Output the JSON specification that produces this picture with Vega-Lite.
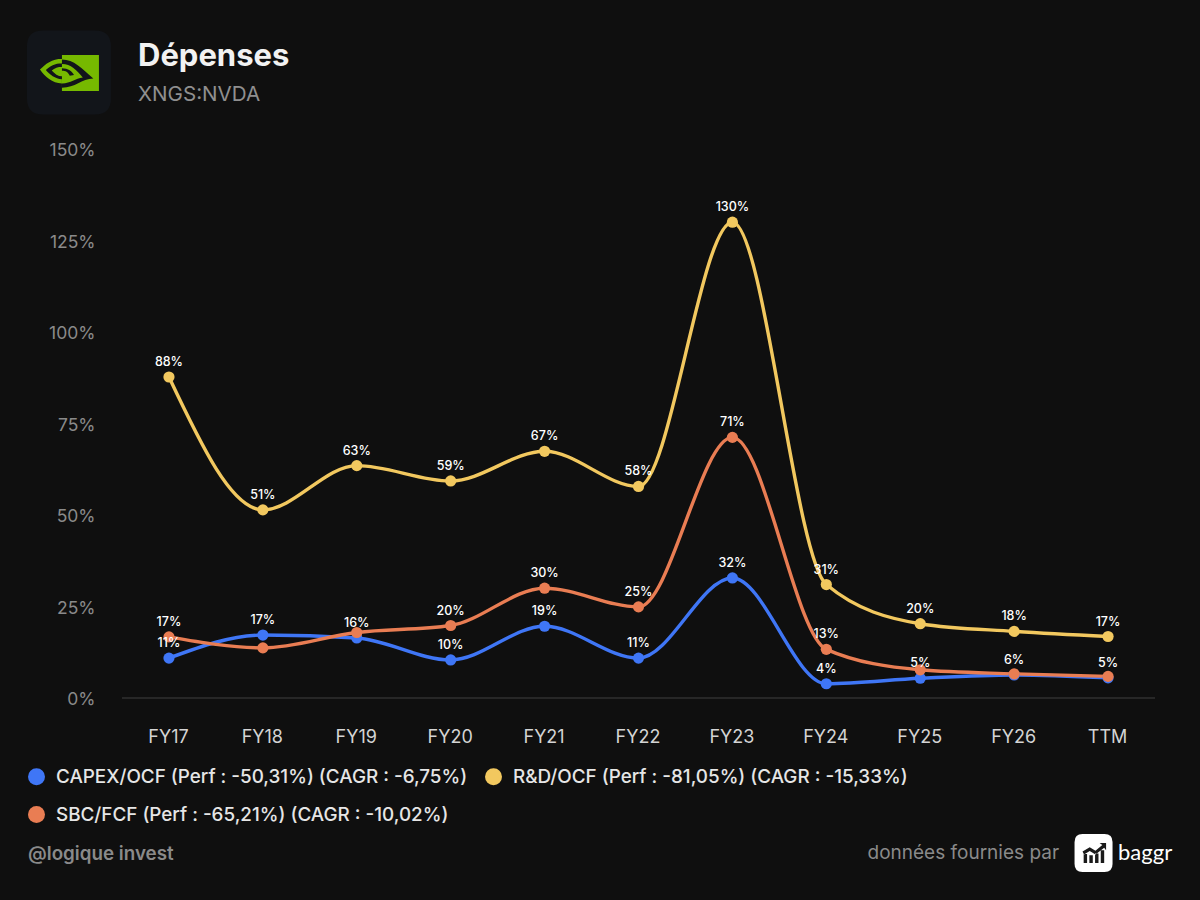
{
  "$schema": "https://vega.github.io/schema/vega-lite/v6.json",
  "width": 1033,
  "height": 549,
  "autosize": "none",
  "padding": {"left": 122, "top": 149, "right": 45, "bottom": 202},
  "background": "#0f0f0f",
  "title": {
    "text": "Dépenses",
    "subtitle": "XNGS:NVDA",
    "anchor": "start",
    "frame": "group",
    "dx": 16,
    "offset": -76,
    "font": "Inter",
    "fontSize": 31,
    "fontWeight": 700,
    "color": "#f2f2f2",
    "subtitleFont": "Inter",
    "subtitleFontSize": 20.6,
    "subtitleColor": "#8f8f8f",
    "subtitlePadding": 12
  },
  "data": {
    "values": [
      {"period": "FY17", "series": "CAPEX", "value": 10.9, "label": "11%"},
      {"period": "FY18", "series": "CAPEX", "value": 17.2, "label": "17%"},
      {"period": "FY19", "series": "CAPEX", "value": 16.4, "label": "16%"},
      {"period": "FY20", "series": "CAPEX", "value": 10.4, "label": "10%"},
      {"period": "FY21", "series": "CAPEX", "value": 19.6, "label": "19%"},
      {"period": "FY22", "series": "CAPEX", "value": 10.9, "label": "11%"},
      {"period": "FY23", "series": "CAPEX", "value": 32.8, "label": "32%"},
      {"period": "FY24", "series": "CAPEX", "value": 3.9, "label": "4%"},
      {"period": "FY25", "series": "CAPEX", "value": 5.4, "label": "5%"},
      {"period": "FY26", "series": "CAPEX", "value": 6.3, "label": "6%"},
      {"period": "TTM", "series": "CAPEX", "value": 5.5, "label": "5%"},
      {"period": "FY17", "series": "R&D", "value": 87.7, "label": "88%"},
      {"period": "FY18", "series": "R&D", "value": 51.4, "label": "51%"},
      {"period": "FY19", "series": "R&D", "value": 63.5, "label": "63%"},
      {"period": "FY20", "series": "R&D", "value": 59.3, "label": "59%"},
      {"period": "FY21", "series": "R&D", "value": 67.4, "label": "67%"},
      {"period": "FY22", "series": "R&D", "value": 57.8, "label": "58%"},
      {"period": "FY23", "series": "R&D", "value": 130, "label": "130%"},
      {"period": "FY24", "series": "R&D", "value": 31, "label": "31%"},
      {"period": "FY25", "series": "R&D", "value": 20.3, "label": "20%"},
      {"period": "FY26", "series": "R&D", "value": 18.2, "label": "18%"},
      {"period": "TTM", "series": "R&D", "value": 16.8, "label": "17%"},
      {"period": "FY17", "series": "SBC", "value": 16.7, "label": "17%"},
      {"period": "FY18", "series": "SBC", "value": 13.7, "label": ""},
      {"period": "FY19", "series": "SBC", "value": 17.9, "label": ""},
      {"period": "FY20", "series": "SBC", "value": 19.8, "label": "20%"},
      {"period": "FY21", "series": "SBC", "value": 30, "label": "30%"},
      {"period": "FY22", "series": "SBC", "value": 24.9, "label": "25%"},
      {"period": "FY23", "series": "SBC", "value": 71.2, "label": "71%"},
      {"period": "FY24", "series": "SBC", "value": 13.3, "label": "13%"},
      {"period": "FY25", "series": "SBC", "value": 7.7, "label": ""},
      {"period": "FY26", "series": "SBC", "value": 6.6, "label": ""},
      {"period": "TTM", "series": "SBC", "value": 5.9, "label": ""}
    ]
  },
  "transform": [
    {"lookup": "series", "from": {"data": {"values": [
      {"series": "CAPEX", "name": "CAPEX/OCF (Perf : -50,31%) (CAGR : -6,75%)"},
      {"series": "R&D", "name": "R&D/OCF (Perf : -81,05%) (CAGR : -15,33%)"},
      {"series": "SBC", "name": "SBC/FCF (Perf : -65,21%) (CAGR : -10,02%)"}
    ]}, "key": "series", "fields": ["name"]}}
  ],
  "layer": [
    {
      "data": {"values": [{}]},
      "mark": {"type": "rule", "color": "#303030", "strokeWidth": 1.5},
      "encoding": {"y": {"datum": 0, "type": "quantitative"}}
    },
    {
      "mark": {"type": "line", "interpolate": "monotone", "strokeWidth": 3.4},
      "encoding": {
        "x": {"field": "period", "type": "nominal"},
        "y": {"field": "value", "type": "quantitative"},
        "stroke": {
          "field": "series",
          "type": "nominal",
          "legend": null,
          "scale": {
            "domain": ["CAPEX", "R&D", "SBC"],
            "range": ["#3f76f6", "#f2c85f", "#e97d53"]
          }
        }
      }
    },
    {
      "mark": {"type": "point", "filled": true, "size": 125, "opacity": 1, "shape": "circle"},
      "encoding": {
        "x": {"field": "period", "type": "nominal"},
        "y": {"field": "value", "type": "quantitative"},
        "color": {
          "field": "name",
          "type": "nominal",
          "scale": {
            "domain": ["CAPEX/OCF (Perf : -50,31%) (CAGR : -6,75%)", "SBC/FCF (Perf : -65,21%) (CAGR : -10,02%)", "R&D/OCF (Perf : -81,05%) (CAGR : -15,33%)"],
            "range": ["#3f76f6", "#e97d53", "#f2c85f"]
          },
          "legend": {
            "title": null,
            "orient": "none",
            "legendX": -95,
            "legendY": 618,
            "columns": 2,
            "columnPadding": 16,
            "rowPadding": 18,
            "symbolType": "circle",
            "symbolSize": 289,
            "labelOffset": 10,
            "labelFont": "Inter",
            "labelFontSize": 18.85,
            "labelFontWeight": 500,
            "labelColor": "#e6e6e6",
            "labelLimit": 600
          }
        }
      }
    },
    {
      "mark": {"type": "text", "font": "Inter", "fontSize": 12.5, "fontWeight": 500, "color": "#ffffff", "dy": -15},
      "encoding": {
        "x": {"field": "period", "type": "nominal"},
        "y": {"field": "value", "type": "quantitative"},
        "text": {"field": "label"}
      }
    },
    {
      "data": {"values": [{}]},
      "encoding": {
        "x": {"datum": "FY17", "type": "nominal"},
        "y": {"datum": 170.9, "type": "quantitative"},
        "size": {"value": 7056}
      },
      "layer": [
        {"mark": {"type": "point", "filled": true, "opacity": 1, "xOffset": -100, "color": "#12151a", "shape": "M-.62 -1H.62Q1 -1 1 -.62V.62Q1 1 .62 1H-.62Q-1 1 -1 .62V-.62Q-1 -1 -.62 -1Z"}},
        {"mark": {"type": "point", "filled": true, "opacity": 1, "xOffset": -100, "color": "#76b900", "shape": "M-.167 -.417H.714V.44H-.167ZM-.167 -.33C-.4 -.33 -.57 -.2 -.69 -.07C-.57 .1 -.4 .26 -.167 .26Z"}},
        {"mark": {"type": "point", "filled": true, "opacity": 1, "xOffset": -100, "color": "#12151a", "shape": "M-.167 -.31C.12 -.31 .3 -.1 .58 .14C.3 .15 .15 .36 -.167 .36ZM-.167 -.22C-.33 -.22 -.46 -.14 -.55 -.06C-.46 .05 -.33 .15 -.167 .16Z"}},
        {"mark": {"type": "point", "filled": true, "opacity": 1, "xOffset": -100, "color": "#76b900", "shape": "M-.167 -.2C.05 -.2 .18 -.05 .33 .12C.15 .14 .05 .26 -.167 .26ZM-.167 -.14C-.26 -.14 -.34 -.1 -.41 -.05C-.34 .03 -.26 .09 -.167 .09Z"}},
        {"mark": {"type": "point", "filled": true, "opacity": 1, "xOffset": -100, "color": "#12151a", "shape": "M-.167 -.1C-.02 -.1 .08 -.02 .12 .06L.02 .08C-.02 -.01 -.08 -.04 -.167 -.04Z"}}
      ]
    },
    {
      "data": {"values": [{}]},
      "encoding": {
        "y": {"datum": -42.35, "type": "quantitative"}
      },
      "layer": [
        {
          "mark": {"type": "text", "font": "Inter", "fontSize": 18.8, "fontWeight": 600, "color": "#8a8a8a", "align": "left", "dx": -141, "dy": 1},
          "encoding": {"x": {"datum": "FY17", "type": "nominal"}, "text": {"value": "@logique invest"}}
        },
        {
          "mark": {"type": "text", "font": "Inter", "fontSize": 19, "fontWeight": 400, "color": "#8a8a8a", "align": "right", "dx": -49},
          "encoding": {"x": {"datum": "TTM", "type": "nominal"}, "text": {"value": "données fournies par"}}
        },
        {
          "mark": {"type": "point", "filled": true, "opacity": 1, "size": 1444, "xOffset": -14.5, "color": "#ffffff", "shape": "M-.58 -1H.58Q1 -1 1 -.58V.58Q1 1 .58 1H-.58Q-1 1 -1 .58V-.58Q-1 -1 -.58 -1Z"},
          "encoding": {"x": {"datum": "TTM", "type": "nominal"}}
        },
        {
          "mark": {"type": "point", "filled": true, "opacity": 1, "size": 1444, "xOffset": -14.5, "color": "#1a1a1a", "shape": "M-.52 .52H-.34V.05H-.52ZM-.22 .52H-.04V.12H-.22ZM.08 .52H.26V.02H.08ZM.38 .52H.56V-.15H.38ZM-.58 -.08L-.2 -.3L.1 -.12L.46 -.42L.32 -.52H.66V-.14L.56 -.28L.1 .08L-.2 -.1L-.5 .08Z"},
          "encoding": {"x": {"datum": "TTM", "type": "nominal"}}
        },
        {
          "mark": {"type": "text", "font": "Lato", "fontSize": 22, "fontWeight": 400, "color": "#ffffff", "align": "left", "dx": 10},
          "encoding": {"x": {"datum": "TTM", "type": "nominal"}, "text": {"value": "baggr"}}
        }
      ]
    }
  ],
  "encoding": {
    "x": {
      "scale": {"type": "point", "padding": 0.5, "domain": ["FY17", "FY18", "FY19", "FY20", "FY21", "FY22", "FY23", "FY24", "FY25", "FY26", "TTM"]},
      "axis": {"title": null, "labelAngle": 0, "domain": false, "ticks": false, "grid": false, "labelPadding": 30, "labelOffset": -1, "labelFont": "Inter", "labelFontSize": 18, "labelColor": "#d4d4d4"}
    },
    "y": {
      "scale": {"domain": [0, 150], "nice": false},
      "axis": {"title": null, "values": [0, 25, 50, 75, 100, 125, 150], "labelExpr": "datum.value + '%'", "domain": false, "ticks": false, "labelPadding": 27, "labelOffset": 1.5, "labelFont": "Inter", "labelFontSize": 17.5, "labelColor": "#8a8a8a", "gridColor": "#1e1e1e", "gridWidth": 1.5}
    }
  },
  "config": {"view": {"stroke": null}}
}
